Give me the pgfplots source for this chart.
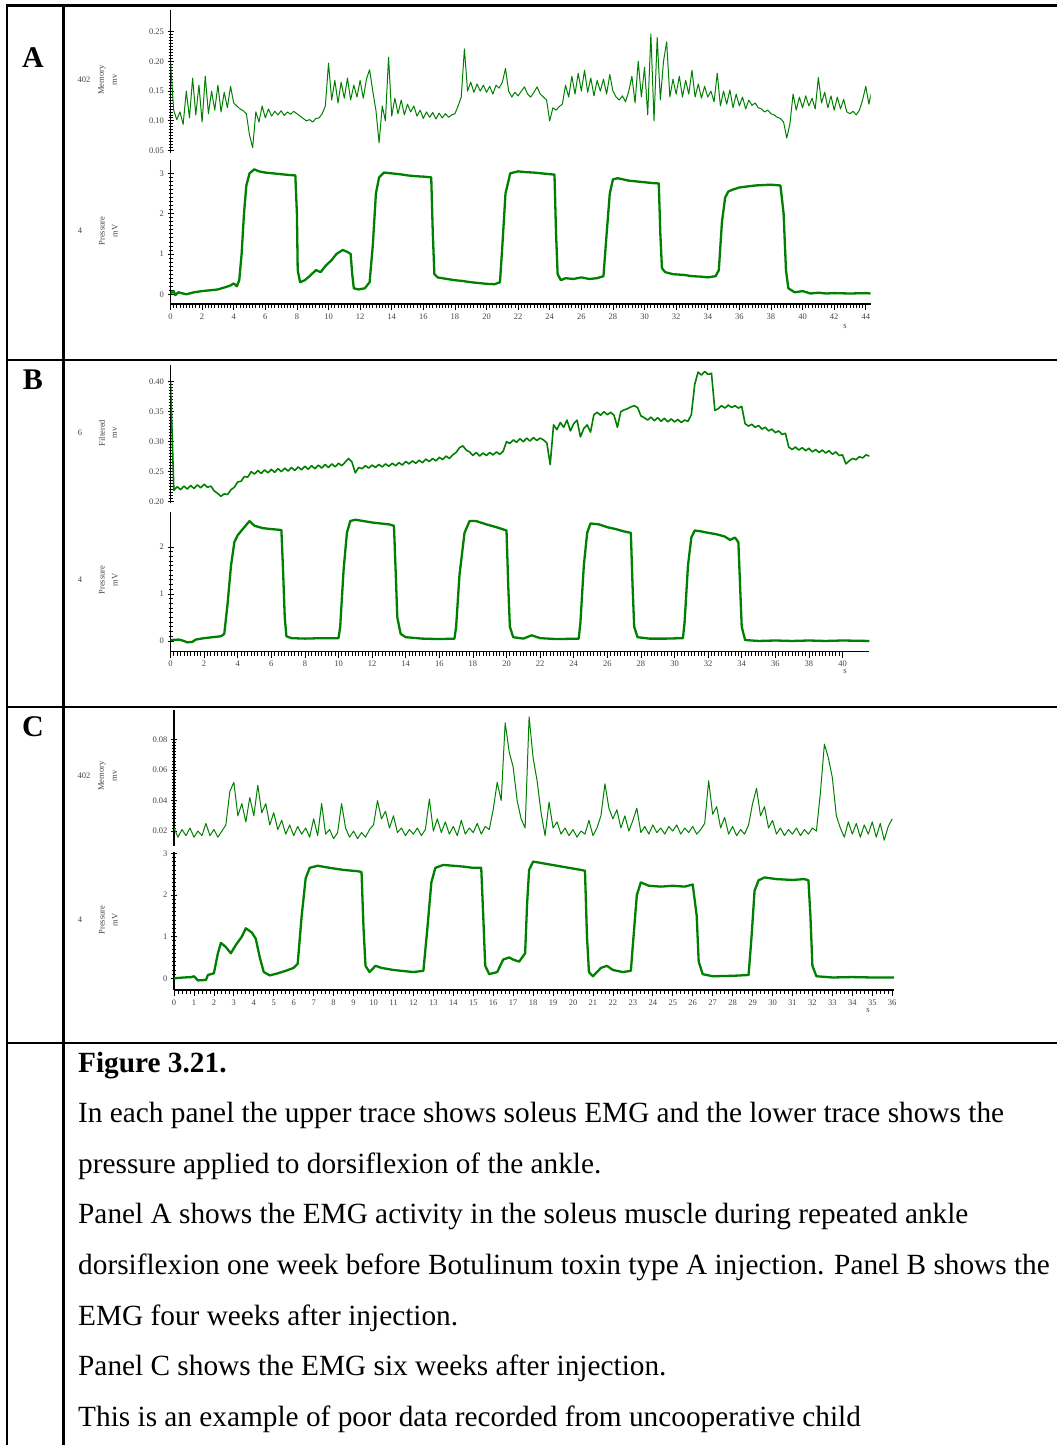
\documentclass[border=0pt]{standalone}
\usepackage{pgfplots}
\usepackage{pgfplotstable}
\pgfplotsset{compat=1.18}
\usepackage{fontspec}
\setmainfont{Liberation Serif}
\definecolor{trace}{RGB}{0,128,0}
\definecolor{lab}{RGB}{70,70,70}

% Panel A, upper trace (Memory, mV), sampled every 0.2 s
\pgfplotstableread[row sep=\\]{v\\
0.200\\0.118\\0.102\\0.115\\0.094\\0.150\\0.105\\0.172\\0.110\\0.160\\
0.098\\0.175\\0.112\\0.150\\0.118\\0.160\\0.115\\0.148\\0.122\\0.158\\
0.130\\0.125\\0.120\\0.117\\0.112\\0.076\\0.055\\0.115\\0.098\\0.125\\
0.105\\0.120\\0.108\\0.116\\0.110\\0.117\\0.109\\0.115\\0.111\\0.116\\
0.112\\0.108\\0.104\\0.100\\0.102\\0.098\\0.104\\0.105\\0.112\\0.125\\
0.197\\0.135\\0.168\\0.130\\0.165\\0.138\\0.172\\0.135\\0.160\\0.140\\
0.168\\0.138\\0.170\\0.186\\0.150\\0.118\\0.063\\0.125\\0.100\\0.207\\
0.108\\0.138\\0.112\\0.135\\0.110\\0.128\\0.115\\0.125\\0.108\\0.118\\
0.104\\0.115\\0.106\\0.114\\0.103\\0.113\\0.105\\0.112\\0.106\\0.110\\
0.112\\0.125\\0.140\\0.221\\0.150\\0.165\\0.148\\0.162\\0.150\\0.160\\
0.148\\0.158\\0.145\\0.160\\0.155\\0.165\\0.188\\0.150\\0.140\\0.148\\
0.142\\0.150\\0.157\\0.145\\0.140\\0.148\\0.157\\0.145\\0.140\\0.135\\
0.100\\0.122\\0.118\\0.124\\0.128\\0.160\\0.140\\0.175\\0.145\\0.180\\
0.150\\0.185\\0.148\\0.172\\0.142\\0.168\\0.150\\0.170\\0.145\\0.178\\
0.150\\0.140\\0.135\\0.142\\0.132\\0.150\\0.175\\0.130\\0.200\\0.140\\
0.190\\0.110\\0.246\\0.100\\0.240\\0.135\\0.200\\0.233\\0.140\\0.170\\
0.145\\0.175\\0.140\\0.168\\0.145\\0.185\\0.140\\0.162\\0.138\\0.158\\
0.140\\0.150\\0.132\\0.180\\0.125\\0.150\\0.128\\0.152\\0.122\\0.145\\
0.125\\0.140\\0.120\\0.135\\0.126\\0.130\\0.122\\0.120\\0.115\\0.118\\
0.112\\0.110\\0.106\\0.104\\0.098\\0.071\\0.095\\0.145\\0.118\\0.140\\
0.122\\0.142\\0.125\\0.138\\0.120\\0.173\\0.130\\0.148\\0.122\\0.142\\
0.118\\0.140\\0.120\\0.136\\0.115\\0.112\\0.116\\0.110\\0.118\\0.135\\
0.158\\0.128\\0.155\\}\emgA

% Panel B, upper trace (Filtered, mV), every 0.2 s
\pgfplotstableread[row sep=\\]{v\\
0.400\\0.219\\0.225\\0.220\\0.226\\0.221\\0.227\\0.222\\0.228\\0.223\\
0.229\\0.224\\0.226\\0.218\\0.214\\0.209\\0.213\\0.212\\0.220\\0.224\\
0.233\\0.234\\0.242\\0.241\\0.250\\0.246\\0.252\\0.247\\0.253\\0.248\\
0.254\\0.249\\0.255\\0.250\\0.256\\0.251\\0.257\\0.252\\0.258\\0.253\\
0.259\\0.254\\0.260\\0.255\\0.261\\0.256\\0.262\\0.257\\0.263\\0.258\\
0.264\\0.260\\0.266\\0.272\\0.266\\0.248\\0.257\\0.255\\0.260\\0.256\\
0.261\\0.257\\0.262\\0.258\\0.263\\0.259\\0.264\\0.260\\0.265\\0.261\\
0.267\\0.263\\0.268\\0.264\\0.269\\0.265\\0.271\\0.267\\0.272\\0.268\\
0.274\\0.270\\0.276\\0.272\\0.278\\0.282\\0.290\\0.293\\0.286\\0.283\\
0.277\\0.282\\0.276\\0.281\\0.277\\0.282\\0.278\\0.283\\0.279\\0.284\\
0.300\\0.297\\0.303\\0.299\\0.305\\0.300\\0.306\\0.301\\0.307\\0.302\\
0.306\\0.303\\0.298\\0.262\\0.328\\0.320\\0.332\\0.324\\0.336\\0.318\\
0.330\\0.336\\0.308\\0.322\\0.328\\0.316\\0.345\\0.349\\0.344\\0.350\\
0.345\\0.349\\0.344\\0.324\\0.350\\0.353\\0.355\\0.358\\0.360\\0.357\\
0.343\\0.340\\0.336\\0.341\\0.335\\0.340\\0.334\\0.339\\0.333\\0.338\\
0.333\\0.337\\0.332\\0.336\\0.334\\0.345\\0.395\\0.416\\0.411\\0.417\\
0.412\\0.414\\0.352\\0.355\\0.360\\0.356\\0.361\\0.357\\0.360\\0.356\\
0.359\\0.330\\0.326\\0.329\\0.324\\0.327\\0.321\\0.324\\0.318\\0.321\\
0.315\\0.318\\0.312\\0.314\\0.291\\0.287\\0.291\\0.286\\0.290\\0.285\\
0.289\\0.283\\0.287\\0.282\\0.286\\0.281\\0.285\\0.279\\0.283\\0.277\\
0.278\\0.263\\0.268\\0.272\\0.270\\0.275\\0.273\\0.278\\0.276\\}\emgB

% Panel C, upper trace (Memory, mV), every 0.2 s
\pgfplotstableread[row sep=\\]{v\\
0.022\\0.016\\0.021\\0.017\\0.022\\0.016\\0.020\\0.017\\0.025\\0.017\\
0.021\\0.016\\0.020\\0.024\\0.046\\0.052\\0.030\\0.038\\0.026\\0.042\\
0.030\\0.050\\0.032\\0.038\\0.024\\0.032\\0.021\\0.027\\0.018\\0.024\\
0.017\\0.023\\0.018\\0.022\\0.016\\0.028\\0.017\\0.038\\0.018\\0.021\\
0.015\\0.019\\0.038\\0.022\\0.016\\0.020\\0.015\\0.019\\0.016\\0.021\\
0.024\\0.040\\0.028\\0.033\\0.022\\0.030\\0.019\\0.022\\0.017\\0.021\\
0.018\\0.022\\0.017\\0.021\\0.041\\0.020\\0.028\\0.019\\0.026\\0.018\\
0.023\\0.017\\0.027\\0.018\\0.022\\0.019\\0.025\\0.018\\0.023\\0.021\\
0.034\\0.052\\0.040\\0.091\\0.072\\0.062\\0.040\\0.028\\0.022\\0.095\\
0.068\\0.053\\0.032\\0.017\\0.039\\0.022\\0.026\\0.018\\0.022\\0.017\\
0.021\\0.016\\0.020\\0.018\\0.027\\0.017\\0.022\\0.030\\0.051\\0.035\\
0.028\\0.034\\0.022\\0.030\\0.020\\0.027\\0.035\\0.019\\0.023\\0.018\\
0.024\\0.019\\0.022\\0.018\\0.023\\0.020\\0.024\\0.018\\0.022\\0.019\\
0.023\\0.018\\0.021\\0.025\\0.053\\0.031\\0.036\\0.022\\0.029\\0.018\\
0.023\\0.017\\0.021\\0.018\\0.024\\0.038\\0.048\\0.030\\0.036\\0.022\\
0.027\\0.018\\0.022\\0.017\\0.021\\0.018\\0.022\\0.017\\0.021\\0.018\\
0.022\\0.020\\0.045\\0.077\\0.068\\0.055\\0.030\\0.022\\0.016\\0.026\\
0.018\\0.025\\0.016\\0.024\\0.018\\0.026\\0.016\\0.025\\0.014\\0.023\\
0.028\\}\emgC

\pgfplotsset{
  base/.style={scale only axis, axis y line*=left,
    axis line style={line width=1.1pt, black},
    tick style={black, line width=0.8pt},
    major tick length=6pt, minor tick length=4pt,
    ytick align=center, xtick align=outside,
    minor tick num=9,
    tick label style={font=\fontsize{8.5}{9}\selectfont, text=lab},
    /pgf/number format/assume math mode=true,
    scaled ticks=false},
  upper/.style={base, axis x line=none,
    yticklabel style={/pgf/number format/.cd, fixed, fixed zerofill, precision=2}},
  lower/.style={base, axis x line*=bottom},
  emg/.style={trace, line width=1pt, line join=round},
  pres/.style={trace, line width=2.3pt, line join=round},
}

\begin{document}
\begin{tikzpicture}[x=1pt,y=1pt]
\useasboundingbox (0,0) rectangle (1057,1445);
\fill[white] (0,0) rectangle (1057,1445);

% table frame
\begin{scope}[line width=2.4pt, black]
\draw (7,1439.5) -- (1057,1439.5);
\draw (7,1085) -- (1057,1085);
\draw (7,738) -- (1057,738);
\draw (7,402) -- (1057,402);
\draw (7,1440.7) -- (7,-2);
\draw (63.5,1440.7) -- (63.5,-2);
\end{scope}

% ---------- Panel A ----------
\begin{axis}[upper, at={(170.5pt,1292pt)}, anchor=south west,
  width=700pt, height=143.4pt, xmin=0, xmax=44.3, ymin=0.046, ymax=0.287,
  ytick={0.05,0.1,0.15,0.2,0.25}]
\addplot[emg] table[x expr=\coordindex*0.2, y=v] {\emgA};
\end{axis}

\begin{axis}[lower, at={(170.5pt,1141pt)}, anchor=south west,
  width=700pt, height=143.5pt, xmin=0, xmax=44.3, ymin=-0.24, ymax=3.32,
  ytick={0,1,2,3}, xtick={0,2,...,44}]
\addplot[pres] coordinates {
(0,0.02)(0.2,0.08)(0.3,-0.02)(0.5,0.05)(1,0.0)(1.5,0.05)(2,0.08)(2.5,0.1)(3,0.12)(3.5,0.18)(3.8,0.22)(4.0,0.27)(4.2,0.2)(4.35,0.35)(4.5,1.0)(4.65,2.0)(4.8,2.7)(5.0,3.0)(5.3,3.1)(5.6,3.05)(6,3.02)(6.5,3.0)(7,2.98)(7.5,2.96)(7.9,2.95)(8.0,2.0)(8.05,0.6)(8.2,0.3)(8.5,0.35)(8.8,0.45)(9.2,0.6)(9.5,0.55)(9.8,0.7)(10.2,0.85)(10.5,1.0)(10.9,1.1)(11.2,1.05)(11.4,1.0)(11.5,0.5)(11.6,0.15)(11.9,0.12)(12.3,0.15)(12.6,0.3)(12.8,1.2)(13.0,2.5)(13.2,2.9)(13.5,3.02)(14,3.0)(14.5,2.98)(15,2.95)(15.5,2.93)(16,2.92)(16.5,2.9)(16.6,1.5)(16.7,0.5)(16.9,0.42)(17.5,0.38)(18,0.35)(18.5,0.33)(19,0.3)(19.5,0.28)(20,0.26)(20.5,0.25)(20.85,0.3)(21.0,1.2)(21.2,2.5)(21.5,3.0)(22,3.05)(22.5,3.03)(23,3.02)(23.5,3.0)(24,2.98)(24.3,2.97)(24.4,1.5)(24.5,0.5)(24.7,0.35)(25,0.4)(25.5,0.38)(26,0.42)(26.5,0.38)(27,0.4)(27.4,0.45)(27.6,1.5)(27.8,2.5)(28.0,2.85)(28.3,2.88)(29,2.82)(29.5,2.8)(30,2.78)(30.5,2.76)(30.9,2.75)(31.0,1.5)(31.1,0.65)(31.3,0.55)(31.8,0.5)(32.5,0.48)(33,0.45)(33.5,0.44)(34,0.42)(34.5,0.45)(34.7,0.6)(34.9,1.8)(35.1,2.4)(35.3,2.55)(35.6,2.6)(36,2.65)(37,2.7)(38,2.72)(38.6,2.7)(38.8,2.0)(38.95,0.6)(39.1,0.15)(39.5,0.05)(40,0.08)(40.5,0.02)(41,0.04)(41.5,0.02)(42,0.03)(43,0.02)(44,0.03)(44.3,0.02)};
\end{axis}

% ---------- Panel B ----------
\begin{axis}[upper, at={(170.5pt,942.1pt)}, anchor=south west,
  width=698.9pt, height=138pt, xmin=0, xmax=41.6, ymin=0.198, ymax=0.428,
  ytick={0.2,0.25,0.3,0.35,0.4}]
\addplot[emg, line width=1.6pt] table[x expr=\coordindex*0.2, y=v] {\emgB};
\end{axis}

\begin{axis}[lower, at={(170.5pt,793.3pt)}, anchor=south west,
  width=698.9pt, height=140pt, xmin=0, xmax=41.6, ymin=-0.228, ymax=2.75,
  ytick={0,1,2}, xtick={0,2,...,40}]
\addplot[pres] coordinates {
(0,0.02)(0.5,0.03)(0.8,0.0)(1.0,-0.03)(1.3,-0.02)(1.5,0.03)(2,0.06)(2.5,0.08)(3.0,0.1)(3.2,0.15)(3.4,0.8)(3.6,1.6)(3.8,2.1)(4.0,2.25)(4.3,2.38)(4.7,2.55)(5.0,2.45)(5.5,2.4)(6.0,2.38)(6.6,2.36)(6.7,1.5)(6.8,0.5)(6.9,0.1)(7.2,0.06)(8,0.05)(9,0.06)(10,0.06)(10.1,0.3)(10.3,1.5)(10.5,2.3)(10.7,2.55)(11,2.58)(11.5,2.55)(12,2.52)(12.5,2.5)(13,2.48)(13.3,2.45)(13.4,1.5)(13.5,0.5)(13.7,0.15)(14,0.08)(15,0.05)(16,0.04)(16.9,0.05)(17.0,0.3)(17.2,1.4)(17.5,2.3)(17.8,2.55)(18.2,2.55)(18.8,2.48)(19.4,2.42)(20.0,2.35)(20.1,1.2)(20.2,0.3)(20.4,0.08)(21,0.05)(21.5,0.12)(22,0.06)(23,0.04)(24.3,0.05)(24.4,0.4)(24.6,1.6)(24.8,2.3)(25.0,2.5)(25.5,2.48)(26,2.42)(26.5,2.38)(27,2.33)(27.4,2.3)(27.5,1.2)(27.6,0.3)(27.8,0.08)(28.5,0.05)(29.5,0.05)(30.5,0.06)(30.6,0.4)(30.8,1.6)(31.0,2.2)(31.2,2.35)(31.6,2.33)(32,2.3)(32.5,2.27)(33,2.22)(33.3,2.15)(33.6,2.2)(33.8,2.1)(33.9,1.2)(34.0,0.3)(34.2,0.02)(35,0.0)(36,0.01)(37,0.0)(38,0.01)(39,0.0)(40,0.01)(41.6,0.0)};
\end{axis}

% ---------- Panel C ----------
\begin{axis}[upper, at={(174pt,599.3pt)}, anchor=south west,
  width=720.2pt, height=135.7pt, xmin=0, xmax=36.1, ymin=0.0104, ymax=0.0994,
  ytick={0.02,0.04,0.06,0.08}]
\addplot[emg] table[x expr=\coordindex*0.2, y=v] {\emgC};
\end{axis}

\begin{axis}[lower, at={(174pt,455pt)}, anchor=south west,
  width=720.2pt, height=138.4pt, xmin=0, xmax=36.1, ymin=-0.28, ymax=3.04,
  ytick={0,1,2,3}, xtick={0,1,...,36}, minor x tick num=4]
\addplot[pres] coordinates {
(0,0.0)(0.5,0.02)(0.9,0.03)(1.0,0.05)(1.2,-0.05)(1.6,-0.04)(1.7,0.08)(2.0,0.12)(2.2,0.6)(2.35,0.85)(2.6,0.75)(2.85,0.6)(3.1,0.8)(3.4,1.0)(3.6,1.2)(3.9,1.1)(4.1,0.95)(4.3,0.5)(4.5,0.15)(4.8,0.07)(5.2,0.12)(5.6,0.18)(6.0,0.25)(6.2,0.35)(6.4,1.5)(6.6,2.4)(6.8,2.65)(7.2,2.7)(7.8,2.65)(8.5,2.6)(9.2,2.57)(9.4,2.55)(9.5,1.2)(9.6,0.3)(9.8,0.15)(10.1,0.3)(10.4,0.25)(11,0.2)(12,0.15)(12.5,0.18)(12.7,1.2)(12.9,2.3)(13.1,2.65)(13.5,2.72)(14.0,2.7)(14.5,2.68)(15.0,2.65)(15.4,2.65)(15.5,1.5)(15.6,0.3)(15.8,0.1)(16.2,0.15)(16.5,0.45)(16.8,0.5)(17.0,0.45)(17.3,0.4)(17.6,0.6)(17.7,1.8)(17.8,2.6)(18.0,2.8)(18.6,2.75)(19.2,2.7)(19.8,2.65)(20.4,2.6)(20.6,2.58)(20.7,1.0)(20.8,0.15)(21.0,0.05)(21.4,0.25)(21.7,0.3)(22.0,0.2)(22.5,0.15)(22.9,0.18)(23.0,0.8)(23.2,2.0)(23.4,2.3)(23.8,2.22)(24.4,2.2)(25.0,2.22)(25.6,2.2)(26.0,2.25)(26.2,1.5)(26.3,0.4)(26.5,0.1)(27,0.05)(28,0.06)(28.8,0.08)(28.95,1.0)(29.1,2.1)(29.3,2.35)(29.6,2.42)(30.2,2.38)(31.0,2.36)(31.6,2.38)(31.8,2.35)(31.9,1.5)(32.0,0.3)(32.2,0.05)(33,0.02)(34,0.03)(35,0.02)(36.1,0.02)};
\end{axis}

% ---------- side labels ----------
\begin{scope}[every node/.style={font=\fontsize{8.5}{9}\selectfont, text=lab, inner sep=0}]
\node at (84,1365) {402};
\node[rotate=90] at (102,1365) {Memory};
\node[rotate=90] at (115,1365) {mv};
\node at (80,1214) {4};
\node[rotate=90] at (102,1214) {Pressure};
\node[rotate=90] at (115,1214) {mV};
\node at (845,1118) {s};

\node at (80,1012) {6};
\node[rotate=90] at (102,1012) {Filtered};
\node[rotate=90] at (115,1012) {mv};
\node at (80,865) {4};
\node[rotate=90] at (102,865) {Pressure};
\node[rotate=90] at (115,865) {mV};
\node at (845,773) {s};

\node at (84,669) {402};
\node[rotate=90] at (102,669) {Memory};
\node[rotate=90] at (115,669) {mv};
\node at (80,525) {4};
\node[rotate=90] at (102,525) {Pressure};
\node[rotate=90] at (115,525) {mV};
\node at (868,434) {s};
\end{scope}

% ---------- panel letters ----------
\begin{scope}[every node/.style={font=\fontsize{30}{30}\selectfont\bfseries, inner sep=0}]
\node at (33,1387) {A};
\node at (33,1065) {B};
\node at (33,718) {C};
\end{scope}

% ---------- caption ----------
\begin{scope}[every node/.style={font=\fontsize{29.3}{35}\selectfont, anchor=base west, inner sep=0}]
\node at (78,372) {\bfseries Figure 3.21.};
\node at (78,322) {In each panel the upper trace shows soleus EMG and the lower trace shows the};
\node at (78,271) {pressure applied to dorsiflexion of the ankle.};
\node at (78,221) {Panel A shows the EMG activity in the soleus muscle during repeated ankle};
\node at (78,170) {dorsiflexion one week before Botulinum toxin type A injection. Panel B shows the};
\node at (78,119) {EMG four weeks after injection.};
\node at (78,69) {Panel C shows the EMG six weeks after injection.};
\node at (78,18) {This is an example of poor data recorded from uncooperative child};
\end{scope}
\end{tikzpicture}
\end{document}
